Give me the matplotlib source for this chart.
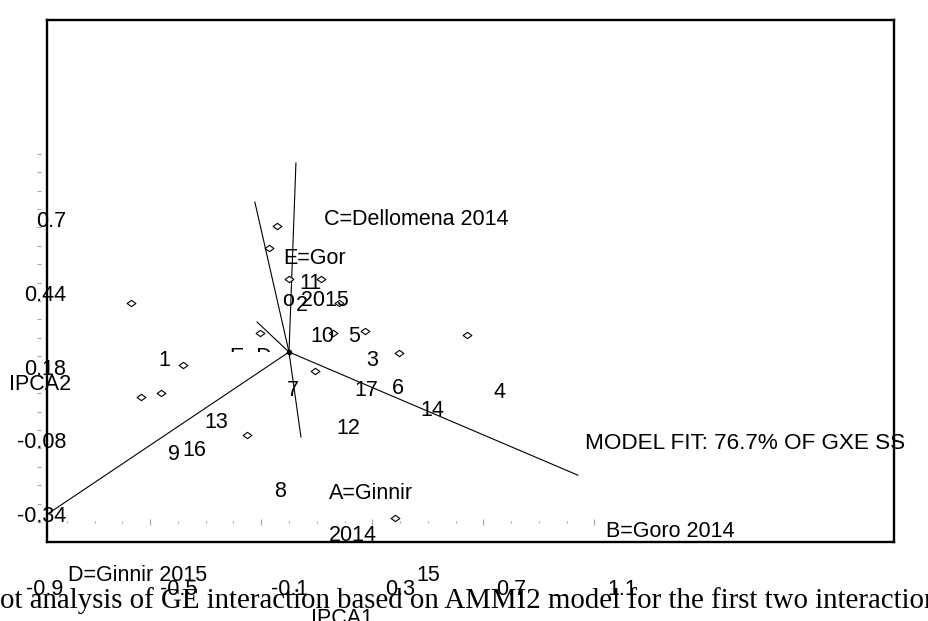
import numpy as np
import matplotlib
matplotlib.use("Agg")
import matplotlib.pyplot as plt
from matplotlib.path import Path
from matplotlib.patches import Rectangle

plt.rcParams["font.family"] = ["Liberation Sans", "DejaVu Sans"]

# genotype scores on the first two interaction axes
GENO_IDS = [11, 2, 1, 10, 5, 3, 7, 17, 6, 4, 14, 12, 13, 16, 9, 8, 15]
GENO_IPCA1 = [-0.043, -0.072, -0.569, 0.000, 0.115, 0.180, -0.105, 0.159, 0.274,
              0.641, 0.396, 0.094, -0.382, -0.461, -0.533, -0.151, 0.382]
GENO_IPCA2 = [0.445, 0.367, 0.173, 0.258, 0.258, 0.173, 0.067, 0.067, 0.074,
              0.060, -0.004, -0.067, -0.046, -0.145, -0.159, -0.293, -0.587]

# environment vectors (last one has no readable label)
ENV_LABELS = ["A=Ginnir\n2014", "B=Goro 2014", "C=Dellomena 2014",
              "D=Ginnir 2015", "E=Gor\no 2015", ""]
ENV_IPCA1 = [0.043, 1.041, 0.025, -0.897, -0.123, -0.115]
ENV_IPCA2 = [-0.300, -0.435, 0.668, -0.590, 0.530, 0.106]

X_TICKS = [-0.9, -0.5, -0.1, 0.3, 0.7, 1.1]
Y_TICKS = [-0.34, -0.08, 0.18, 0.44, 0.7]

MODEL_FIT = "MODEL FIT: 76.7% OF GXE SS"
CAPTION = "ot analysis of GE interaction based on AMMI2 model for the first two interaction"

W, H = 929, 621
FS = 15.5

fig = plt.figure(figsize=(W / 100, H / 100), dpi=100)
ax = fig.add_axes([47 / W, 1 - 542 / H, (894 - 47) / W, (542 - 20) / H])
ax.set_xlim(-0.872, 2.180)
ax.set_ylim(-0.671, 1.173)
ax.set_xticks([])
ax.set_yticks([])
for s in ax.spines.values():
    s.set_linewidth(1.7)

# dotted tick rows of the old frame
x_minor = np.round(np.arange(-0.9, 1.101, 0.1), 2)
ax.plot(x_minor, np.full(len(x_minor), -0.6), ls="none", marker="|", ms=2,
        mew=0.8, color="0.65", clip_on=False)
ax.plot(X_TICKS[1:], np.full(len(X_TICKS) - 1, -0.6), ls="none", marker="|",
        ms=5, mew=0.8, color="0.65", clip_on=False)
y_minor = np.round(np.arange(-0.6, 0.701, 0.065), 3)
ax.plot(np.full(len(y_minor), -0.9), y_minor, ls="none", marker="_", ms=3,
        mew=0.8, color="0.65", clip_on=False)

# tick labels, shifted off their ticks
x_dx = [5, 28, 28, 28, 28, 28]
for v, dx in zip(X_TICKS, x_dx):
    ax.annotate(f"{v:g}", xy=(v, -0.6), xytext=(dx, -68), textcoords="offset pixels",
                ha="center", va="center", fontsize=FS, annotation_clip=False)
for v in Y_TICKS:
    ax.annotate(f"{v:g}", xy=(-0.9, v), xytext=(27, -68), textcoords="offset pixels",
                ha="right", va="center", fontsize=FS, annotation_clip=False)

# environment vectors
for x, y, lab in zip(ENV_IPCA1, ENV_IPCA2, ENV_LABELS):
    ax.plot([0, x], [0, y], color="black", lw=0.8)
    if lab:
        ax.annotate(lab, xy=(x, y), xytext=(28, -46), textcoords="offset pixels",
                    ha="left", va="top", fontsize=FS, linespacing=2.3,
                    annotation_clip=False)
ax.plot([0], [0], marker="o", ms=3, color="black")

# half-hidden labels near the origin, cut at the IPCA2 = 0 level
t = ax.text(-0.2126, 0.018, "E  D", ha="left", va="top", fontsize=FS, clip_on=True)
t.set_clip_path(Rectangle((-1, 0), 4, 2, transform=ax.transData))

# genotypes
diamond = Path([(-1, 0), (0, 0.72), (1, 0), (0, -0.72), (-1, 0)],
               [Path.MOVETO, Path.LINETO, Path.LINETO, Path.LINETO, Path.CLOSEPOLY])
ax.plot(GENO_IPCA1, GENO_IPCA2, ls="none", marker=diamond, ms=6.3,
        mfc="white", mec="black", mew=0.8)
for g, x, y in zip(GENO_IDS, GENO_IPCA1, GENO_IPCA2):
    ax.annotate(str(g), xy=(x, y), xytext=(33, -57), textcoords="offset pixels",
                ha="center", va="center", fontsize=FS, annotation_clip=False)

ax.text(1.067, -0.322, MODEL_FIT, ha="left", va="center", fontsize=16.2)

fig.text(40 / W, 1 - 384 / H, "IPCA2", ha="center", va="center", fontsize=FS)
fig.text(342 / W, 1 - 619 / H, "IPCA1", ha="center", va="center", fontsize=FS)
fig.text(0, 1 - 608 / H, CAPTION, ha="left", va="baseline", fontsize=20.8,
         family=["Liberation Serif", "DejaVu Serif"])

fig.savefig("out.png", dpi=100)
